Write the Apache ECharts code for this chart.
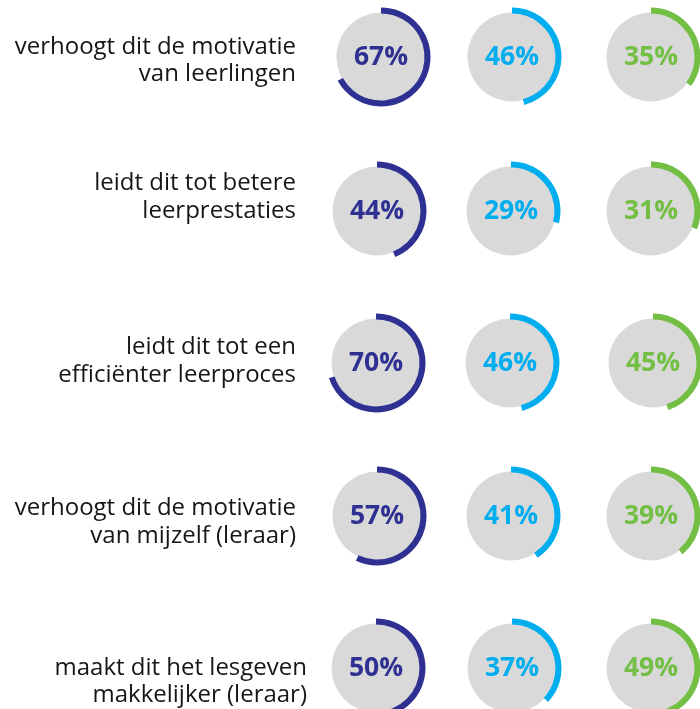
<!DOCTYPE html>
<html><head><meta charset="utf-8">
<script src="https://cdn.jsdelivr.net/npm/echarts@6/dist/echarts.min.js"></script>
<style>html,body{margin:0;padding:0;background:#fff}#c{width:700px;height:709px}</style>
</head><body><div id="c"></div>
<script>
const categories = [
  ["verhoogt dit de motivatie", "van leerlingen"],
  ["leidt dit tot betere", "leerprestaties"],
  ["leidt dit tot een", "efficiënter leerproces"],
  ["verhoogt dit de motivatie", "van mijzelf (leraar)"],
  ["maakt dit het lesgeven", "makkelijker (leraar)"]
];
const seriesA = [67, 44, 70, 57, 50];
const seriesB = [46, 29, 46, 41, 37];
const seriesC = [35, 31, 45, 39, 49];
const colors = ["#2e3192", "#00aeef", "#72bf44"];

const rowY = [57, 211, 363, 516, 668];
const colX = [[381, 512, 651],[377, 511, 651],[376, 510, 653],[377, 511, 651],[376, 512, 651]];
const labelRight = [296, 296, 296, 296, 307];
const labelY = [[47, 74],[183, 211],[347, 375],[508, 536],[668, 695]];

const all = [seriesA, seriesB, seriesC];
const series = [];
for (let r = 0; r < 5; r++) {
  for (let c = 0; c < 3; c++) {
    const v = all[c][r];
    const center = [colX[r][c], rowY[r]];
    series.push({
      type: 'pie', silent: true, center: center, radius: [0, 44.5],
      animation: false,
      data: [{ value: 1, itemStyle: { color: '#d9d9d9' } }],
      label: { show: true, position: 'center', formatter: v + '%',
        fontFamily: 'Open Sans', fontWeight: 'bold', fontSize: 26.5, color: colors[c],
        padding: [7, 0, 0, 0] },
      labelLine: { show: false }
    });
    series.push({
      type: 'pie', silent: true, center: center, radius: [43.5, 49.5],
      startAngle: 90, clockwise: true, animation: false,
      data: [
        { value: v, itemStyle: { color: colors[c] } },
        { value: 100 - v, itemStyle: { color: 'rgba(0,0,0,0)' } }
      ],
      label: { show: false }, labelLine: { show: false }
    });
  }
}

const graphic = [];
categories.forEach((lines, i) => {
  lines.forEach((t, j) => {
    graphic.push({ type: 'text', x: labelRight[i], y: labelY[i][j],
      style: { text: t, textAlign: 'right', textVerticalAlign: 'middle',
        font: '24px "Open Sans"', fill: '#161616' } });
  });
});

const chart = echarts.init(document.getElementById('c'));
chart.setOption({ animation: false, series: series, graphic: graphic });
</script></body></html>
